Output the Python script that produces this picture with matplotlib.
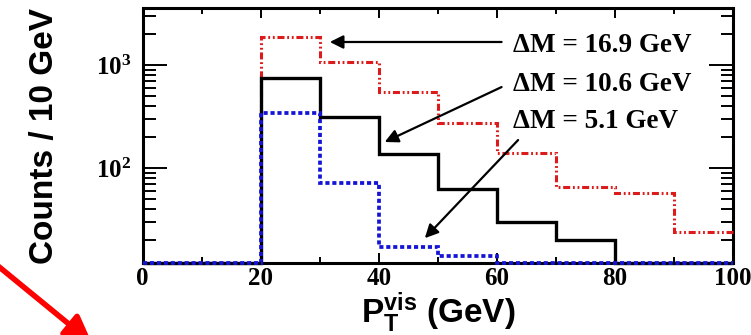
import numpy as np
import matplotlib
matplotlib.use("Agg")
import matplotlib.pyplot as plt
from matplotlib.ticker import LogLocator, MultipleLocator, NullFormatter

plt.rcParams['font.family'] = ['Liberation Serif', 'DejaVu Serif']
plt.rcParams['font.weight'] = 'bold'
plt.rcParams['mathtext.default'] = 'regular'

# histogram bins (GeV) and counts per 10 GeV
edges = np.arange(0, 110, 10)
dm169 = [0, 0, 1870, 1070, 550, 275, 140, 65, 57, 24]
dm106 = [0, 0, 745, 315, 137, 62, 30, 20, 0, 0]
dm51 = [0, 0, 340, 71, 17, 14, 0, 0, 0, 0]
labels = ['\u0394M = 16.9 GeV', '\u0394M = 10.6 GeV', '\u0394M = 5.1 GeV']

ymin, ymax = 12, 3570

fig = plt.figure(figsize=(7.51, 3.35), dpi=100)
ax = fig.add_axes([0.190, 0.215, 0.786, 0.761])
ax.set_yscale('log')

# empty bins sit on the lower frame, like ROOT does
ax.stairs(np.clip(dm169, ymin, None), edges, baseline=None, color='#dc1c1c',
          lw=2.2, linestyle=(0, (2.3, 0.9, 0.6, 0.9, 0.6, 0.9)), clip_on=False, zorder=3)
ax.stairs(np.clip(dm106, ymin, None), edges, baseline=None, color='black',
          lw=2.4, clip_on=False, zorder=4)
ax.stairs(np.clip(dm51, ymin, None), edges, baseline=None, color='#1414d8',
          lw=2.7, linestyle=(0, (1.1, 0.75)), clip_on=False, zorder=5)

ax.set_xlim(0, 100)
ax.set_ylim(ymin, ymax)

ax.xaxis.set_major_locator(MultipleLocator(20))
ax.xaxis.set_minor_locator(MultipleLocator(10))
ax.yaxis.set_major_locator(LogLocator(base=10))
ax.yaxis.set_minor_locator(LogLocator(base=10, subs=np.arange(2, 10)))
ax.yaxis.set_minor_formatter(NullFormatter())

ax.tick_params(axis='both', which='both', direction='in', top=True, right=True,
               width=1.4, labelsize=18)
ax.tick_params(axis='x', which='major', length=7, pad=3)
ax.tick_params(axis='x', which='minor', length=4)
ax.tick_params(axis='y', which='major', length=17, pad=8)
ax.tick_params(axis='y', which='minor', length=9)
for sp in ax.spines.values():
    sp.set_linewidth(2.2)

ax.set_xlabel(r'$P_T^{vis}$ (GeV)', family='Liberation Sans', fontweight='bold',
              fontsize=24, labelpad=0)
ax.set_ylabel('Counts / 10 GeV', family='Liberation Sans', fontweight='bold',
              fontsize=24, labelpad=26)

# labels with arrows pointing at the curves
txt_y = [1563, 640, 280]
tails = [(60.8, 1672), (60.8, 611), (63.6, 187)]
heads = [(31.7, 1672), (41.0, 179), (47.8, 20.9)]
for lab, ty, tl, hd in zip(labels, txt_y, tails, heads):
    ax.text(62.8, ty, lab, ha='left', va='center', fontsize=19.5, fontweight='bold', zorder=6)
    ax.annotate('', xy=hd, xytext=tl,
                arrowprops=dict(arrowstyle='-|>', color='black', lw=1.6,
                                mutation_scale=20, shrinkA=0, shrinkB=0), zorder=6)

# red arrow in the lower left corner
fig.patches.append(matplotlib.patches.FancyArrowPatch(
    (-2, 69), (92, -8), transform=None, arrowstyle='-|>', color='#ff0000',
    lw=4, mutation_scale=40, shrinkA=0, shrinkB=0, figure=fig))

fig.savefig('out.png', dpi=100)
